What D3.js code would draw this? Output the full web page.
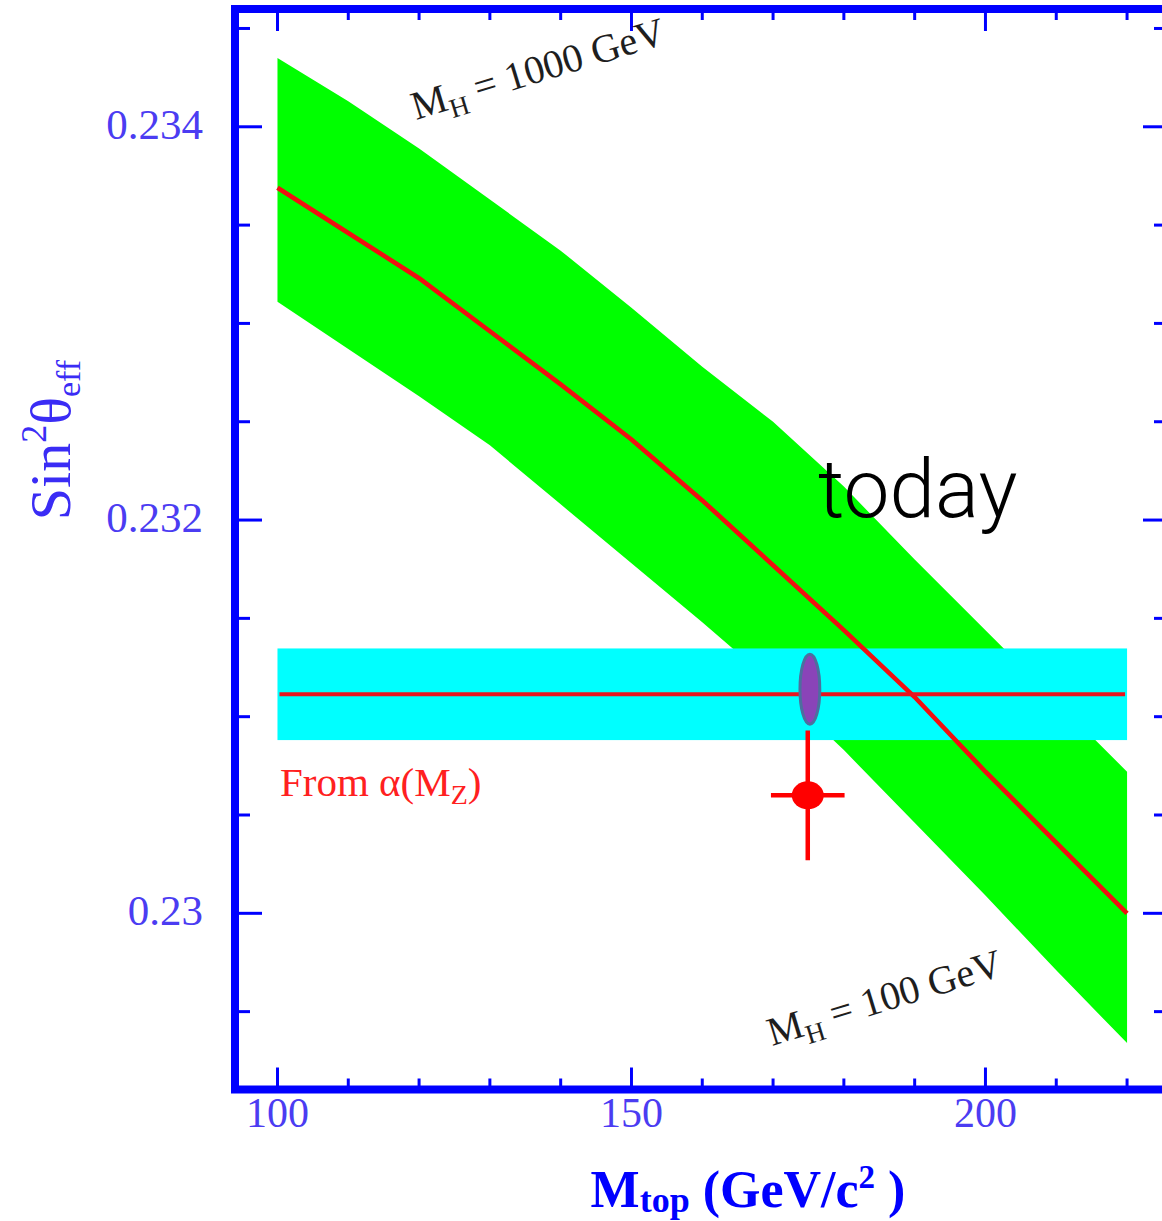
<!DOCTYPE html>
<html>
<head>
<meta charset="utf-8">
<script src="https://cdn.jsdelivr.net/npm/d3@7"></script>
<style>
  html, body { margin: 0; padding: 0; background: #fff; }
  svg { display: block; }
</style>
</head>
<body>
<script>
// Top-quark mass grid (GeV/c^2) on which the electroweak prediction is tabulated
const massTop = [100, 110, 120, 130, 140, 150, 160, 170, 180, 190, 200, 210, 220];
// Upper edge of the Higgs-mass band (M_H = 1000 GeV)
const bandUpper = [0.23435, 0.23413, 0.23389, 0.23363, 0.23337, 0.23308, 0.23278, 0.23250, 0.23217, 0.23180, 0.23144, 0.23108, 0.23072];
// Lower edge of the Higgs-mass band (M_H = 100 GeV)
const bandLower = [0.23311, 0.23287, 0.23263, 0.23238, 0.23208, 0.23178, 0.23148, 0.23117, 0.23083, 0.23046, 0.23009, 0.22971, 0.22934];
// Central prediction
const centralFit = [0.23369, 0.23346, 0.23323, 0.23296, 0.23269, 0.23241, 0.23210, 0.23177, 0.23144, 0.23110, 0.23072, 0.23036, 0.23000];

// Measured sin^2 theta_eff with its uncertainty, drawn over the full M_top range
const alphaRange = [100, 220];
const alphaCentral = 0.231114;
const alphaError = 0.000233;

// Combined measurement (ellipse) and the direct point with error bars
const ellipsePoint = { mtop: 175.2, s2w: 0.23114, dm: 1.4, ds: 0.000178 };
const directPoint = { mtop: 174.9, s2w: 0.23060, dm: 5.2, ds: 0.00033 };

// Axis ticks
const xMajorTicks = [100, 150, 200];
const xMinorTicks = [110, 120, 130, 140, 160, 170, 180, 190, 210, 220];
const xTickLabels = ["100", "150", "200"];
const yMajorTicks = [0.230, 0.232, 0.234];
const yMinorTicks = [0.2295, 0.2305, 0.231, 0.2315, 0.2325, 0.233, 0.2335, 0.2345];
const yTickLabels = ["0.23", "0.232", "0.234"];

const W = 1162, H = 1221;
const frame = { left: 235, right: 1166, top: 9, bottom: 1089.5 };

const svg = d3.select("body").append("svg")
  .attr("width", W).attr("height", H);

const x = d3.scaleLinear().domain([94.0, 225.5]).range([frame.left, frame.right]);
const y = d3.scaleLinear().domain([0.229104, 0.234599]).range([frame.bottom, frame.top]);

const BLUE = "#0000ff";
const LABEL = "#4b3cf2";
const RED = "#f01010";
const serif = "'Liberation Serif', 'Times New Roman', Times, serif";

// Clip to the plot frame
svg.append("clipPath").attr("id", "plot-clip")
  .append("rect")
  .attr("x", frame.left).attr("y", frame.top)
  .attr("width", frame.right - frame.left).attr("height", frame.bottom - frame.top);

const plot = svg.append("g").attr("clip-path", "url(#plot-clip)");

// Green band between the two Higgs-mass extremes
const bandData = massTop.map((m, i) => ({ m, lo: bandLower[i], hi: bandUpper[i], c: centralFit[i] }));
plot.append("path")
  .datum(bandData)
  .attr("fill", "#00ff00")
  .attr("d", d3.area().x(d => x(d.m)).y0(d => y(d.lo)).y1(d => y(d.hi)));

// Cyan measurement band
plot.append("rect")
  .attr("x", x(alphaRange[0]))
  .attr("width", x(alphaRange[1]) - x(alphaRange[0]))
  .attr("y", y(alphaCentral + alphaError))
  .attr("height", y(alphaCentral - alphaError) - y(alphaCentral + alphaError))
  .attr("fill", "#00ffff");

// Central prediction
plot.append("path")
  .datum(bandData)
  .attr("fill", "none")
  .attr("stroke", RED)
  .attr("stroke-width", 4.6)
  .attr("d", d3.line().x(d => x(d.m)).y(d => y(d.c)));

// Measurement central line
plot.append("line")
  .attr("x1", x(alphaRange[0]) + 2).attr("x2", x(alphaRange[1]) - 2)
  .attr("y1", y(alphaCentral)).attr("y2", y(alphaCentral))
  .attr("stroke", "#e8141e").attr("stroke-width", 4);

// Combined ellipse
plot.append("ellipse")
  .attr("cx", x(ellipsePoint.mtop))
  .attr("cy", y(ellipsePoint.s2w))
  .attr("rx", x(ellipsePoint.mtop + ellipsePoint.dm) - x(ellipsePoint.mtop))
  .attr("ry", y(ellipsePoint.s2w - ellipsePoint.ds) - y(ellipsePoint.s2w))
  .attr("fill", "#8a44b8")
  .attr("stroke", "#4d6f9e")
  .attr("stroke-width", 3);

// Direct point with error bars
const dp = plot.append("g");
dp.append("line")
  .attr("x1", x(directPoint.mtop - directPoint.dm)).attr("x2", x(directPoint.mtop + directPoint.dm))
  .attr("y1", y(directPoint.s2w)).attr("y2", y(directPoint.s2w))
  .attr("stroke", "#ff0000").attr("stroke-width", 4.5);
dp.append("line")
  .attr("x1", x(directPoint.mtop)).attr("x2", x(directPoint.mtop))
  .attr("y1", y(directPoint.s2w + directPoint.ds)).attr("y2", y(directPoint.s2w - directPoint.ds))
  .attr("stroke", "#ff0000").attr("stroke-width", 4.5);
dp.append("ellipse")
  .attr("cx", x(directPoint.mtop)).attr("cy", y(directPoint.s2w))
  .attr("rx", 16).attr("ry", 14)
  .attr("fill", "#ff0000");

// Ticks on all four sides
const ticks = svg.append("g").attr("stroke", BLUE).attr("stroke-width", 3);
function xTick(v, len) {
  ticks.append("line").attr("x1", x(v)).attr("x2", x(v))
    .attr("y1", frame.bottom).attr("y2", frame.bottom - len);
  ticks.append("line").attr("x1", x(v)).attr("x2", x(v))
    .attr("y1", frame.top).attr("y2", frame.top + len);
}
function yTick(v, lenL, lenR) {
  ticks.append("line").attr("y1", y(v)).attr("y2", y(v))
    .attr("x1", frame.left).attr("x2", frame.left + lenL);
  ticks.append("line").attr("y1", y(v)).attr("y2", y(v))
    .attr("x1", frame.right).attr("x2", frame.right - lenR);
}
xMajorTicks.forEach(v => xTick(v, 22));
xMinorTicks.forEach(v => xTick(v, 11));
yMajorTicks.forEach(v => yTick(v, 27, 23));
yMinorTicks.forEach(v => yTick(v, 15, 12));

// Frame
svg.append("rect")
  .attr("x", frame.left).attr("y", frame.top)
  .attr("width", frame.right - frame.left).attr("height", frame.bottom - frame.top)
  .attr("fill", "none").attr("stroke", BLUE).attr("stroke-width", 8);

// Tick labels
svg.append("g").selectAll("text").data(xMajorTicks).join("text")
  .attr("x", d => x(d)).attr("y", 1127)
  .attr("text-anchor", "middle")
  .attr("font-family", serif).attr("font-size", 42)
  .attr("fill", LABEL)
  .text((d, i) => xTickLabels[i]);

svg.append("g").selectAll("text").data(yMajorTicks).join("text")
  .attr("x", 203).attr("y", d => y(d) + 12)
  .attr("text-anchor", "end")
  .attr("font-family", serif).attr("font-size", 43)
  .attr("fill", LABEL)
  .text((d, i) => yTickLabels[i]);

// X axis title
const xt = svg.append("text")
  .attr("x", 748).attr("y", 1207)
  .attr("text-anchor", "middle")
  .attr("font-family", serif).attr("font-weight", "bold")
  .attr("font-size", 52).attr("fill", BLUE);
xt.append("tspan").text("M");
xt.append("tspan").attr("font-size", 36).attr("dy", 5).text("top");
xt.append("tspan").attr("dy", -5).text(" (GeV/c");
xt.append("tspan").attr("font-size", 33).attr("dy", -19).text("2");
xt.append("tspan").attr("dy", 19).text(" )");

// Y axis title
const yt = svg.append("text")
  .attr("transform", "translate(70,440) rotate(-90)")
  .attr("text-anchor", "middle")
  .attr("font-family", serif)
  .attr("font-size", 58).attr("fill", "#3a2cf5");
yt.append("tspan").text("Sin");
yt.append("tspan").attr("font-size", 36).attr("dy", -24).text("2");
yt.append("tspan").attr("dy", 24).text("θ");
yt.append("tspan").attr("font-size", 34).attr("dy", 10).text("eff");

// Band edge annotations
function massLabel(px, py, value) {
  const t = svg.append("text")
    .attr("transform", `translate(${px},${py}) rotate(-17)`)
    .attr("font-family", serif).attr("font-size", 40)
    .attr("fill", "#1e1e1e");
  t.append("tspan").text("M");
  t.append("tspan").attr("font-size", 27).attr("dy", 9).text("H");
  t.append("tspan").attr("dy", -9).text(` = ${value} GeV`);
}
massLabel(416, 120, "1000");
massLabel(772, 1046, "100");

// Label for the measurement band
const fa = svg.append("text")
  .attr("x", 280).attr("y", 796)
  .attr("font-family", serif).attr("font-size", 41)
  .attr("fill", "#ff2020");
fa.append("tspan").text("From α(M");
fa.append("tspan").attr("font-size", 28).attr("dy", 8).text("Z");
fa.append("tspan").attr("dy", -8).text(")");

// Present-day marker label
svg.append("text")
  .attr("x", 818).attr("y", 517)
  .attr("font-family", "Roboto, 'Helvetica Neue', 'Liberation Sans', Arial, sans-serif")
  .attr("font-weight", 300)
  .attr("font-size", 82)
  .attr("fill", "#000")
  .text("today");
</script>
</body>
</html>
